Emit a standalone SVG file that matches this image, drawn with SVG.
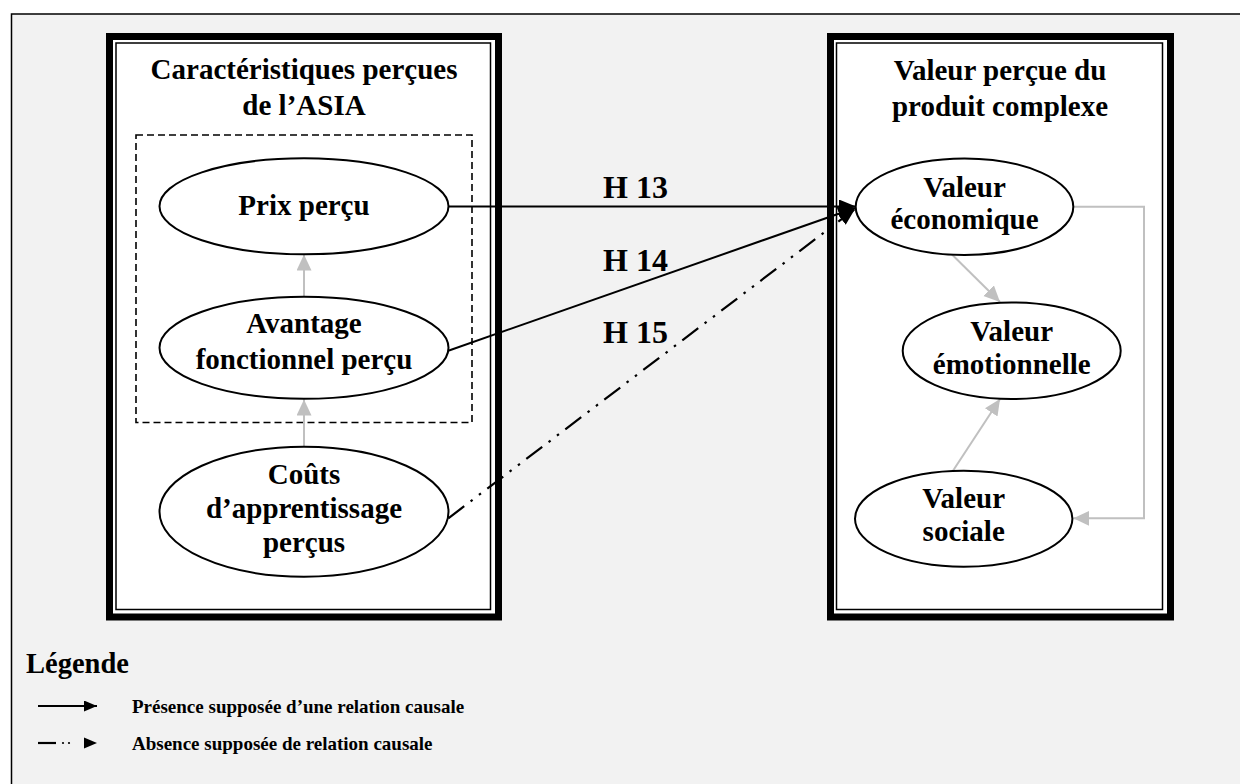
<svg xmlns="http://www.w3.org/2000/svg" width="1240" height="784" viewBox="0 0 1240 784">
<defs>
<style>
text{font-family:"Liberation Serif","Times New Roman",serif;font-weight:bold;fill:#000}
.t{font-size:29px;text-anchor:middle}
.h{font-size:32px}
.lg{font-size:19px}
.node{fill:#fff;stroke:#000;stroke-width:2}
.thick{fill:#fff;stroke:#000;stroke-width:7}
.thin{fill:none;stroke:#000;stroke-width:1.5}
.gray{fill:none;stroke:#c0c0c0;stroke-width:2}
.blk{fill:none;stroke:#000;stroke-width:2}
.dd{fill:none;stroke:#000;stroke-width:2.2;stroke-dasharray:20 8 2.5 8 2.5 8}
</style>
<marker id="ga" markerUnits="userSpaceOnUse" markerWidth="17" markerHeight="16" refX="16" refY="7.5" orient="auto" viewBox="0 0 17 16">
<path d="M0,0 L16,7.5 L0,15 z" fill="#c0c0c0"/>
</marker>
<marker id="ba" markerUnits="userSpaceOnUse" markerWidth="18" markerHeight="16" refX="17" refY="7" orient="auto" viewBox="0 0 18 16">
<path d="M0,0 L17,7 L0,14 z" fill="#000"/>
</marker>
<marker id="la" markerUnits="userSpaceOnUse" markerWidth="14" markerHeight="12" refX="13" refY="5.5" orient="auto" viewBox="0 0 14 12">
<path d="M0,0 L13,5.5 L0,11 z" fill="#000"/>
</marker>
</defs>
<rect x="0" y="0" width="1240" height="784" fill="#fff"/>
<rect x="11.5" y="14" width="1240" height="780" fill="#f2f2f2" stroke="#000" stroke-width="1.5"/>

<g id="box-left">
<rect class="thick" x="109.5" y="36.5" width="389" height="580.5"/>
<rect class="thin" x="116" y="43" width="374.5" height="566.5"/>
<text class="t" x="304" y="79">Caractéristiques perçues</text>
<text class="t" x="304" y="115">de l’ASIA</text>
</g>
<g id="box-right">
<rect class="thick" x="830.5" y="36.5" width="340" height="580.5"/>
<rect class="thin" x="836.5" y="43" width="326" height="566.5"/>
<text class="t" x="1000" y="80">Valeur perçue du</text>
<text class="t" x="1000" y="115.5">produit complexe</text>
</g>

<rect id="group-dashed" x="136" y="135" width="336" height="287.5" fill="none" stroke="#000" stroke-width="1.6" stroke-dasharray="7 4"/>

<g id="connectors">
<line class="gray" x1="304" y1="297" x2="304" y2="254.5" marker-end="url(#ga)"/>
<line class="gray" x1="304" y1="447" x2="304" y2="399.5" marker-end="url(#ga)"/>
<line class="gray" x1="952" y1="254.5" x2="1000" y2="302" marker-end="url(#ga)"/>
<line class="gray" x1="952.5" y1="471.5" x2="1000" y2="399" marker-end="url(#ga)"/>
<polyline class="gray" points="1073.3,206.7 1144,206.7 1144,518.3 1073.3,518.3" marker-end="url(#ga)"/>
<line class="blk" x1="448.3" y1="206.5" x2="856" y2="206.5" marker-end="url(#ba)"/>
<line class="blk" x1="448.3" y1="350.7" x2="855" y2="208" marker-end="url(#ba)"/>
<line class="dd" x1="448.3" y1="518.3" x2="855" y2="209" marker-end="url(#ba)"/>
</g>

<g id="n-prix">
<ellipse class="node" cx="304" cy="206.3" rx="144.5" ry="48"/>
<text class="t" x="304" y="215">Prix perçu</text>
</g>
<g id="n-avantage">
<ellipse class="node" cx="304" cy="347.8" rx="144.5" ry="51"/>
<text class="t" x="304" y="333.3">Avantage</text>
<text class="t" x="304" y="369.3">fonctionnel perçu</text>
</g>
<g id="n-couts">
<ellipse class="node" cx="304" cy="511.7" rx="144.5" ry="65"/>
<text class="t" x="304" y="484.3">Coûts</text>
<text class="t" x="304" y="518.3">d’apprentissage</text>
<text class="t" x="304" y="552">perçus</text>
</g>
<g id="n-economique">
<ellipse class="node" cx="964.5" cy="206.7" rx="108.8" ry="48.3"/>
<text class="t" x="964.5" y="196.7">Valeur</text>
<text class="t" x="964.5" y="229">économique</text>
</g>
<g id="n-emotionnelle">
<ellipse class="node" cx="1011.7" cy="350.7" rx="109" ry="48.3"/>
<text class="t" x="1011.7" y="340.7">Valeur</text>
<text class="t" x="1011.7" y="374">émotionnelle</text>
</g>
<g id="n-sociale">
<ellipse class="node" cx="963.7" cy="518.7" rx="108.7" ry="48"/>
<text class="t" x="963.7" y="508.3">Valeur</text>
<text class="t" x="963.7" y="541">sociale</text>
</g>

<g id="labels">
<text class="h" x="603" y="198.3">H 13</text>
<text class="h" x="603" y="270.7">H 14</text>
<text class="h" x="603" y="342.7">H 15</text>
</g>

<g id="legend">
<text x="26" y="673" style="font-size:28.5px">Légende</text>
<line class="blk" x1="38" y1="706" x2="97" y2="706" marker-end="url(#la)"/>
<text class="lg" x="132" y="712.5">Présence supposée d’une relation causale</text>
<line x1="38" y1="743" x2="56" y2="743" stroke="#000" stroke-width="2.2"/>
<circle cx="63" cy="743" r="1.1" fill="#000"/>
<circle cx="69" cy="743" r="1.1" fill="#000"/>
<path d="M84,737.5 L97,743 L84,748.5 z" fill="#000"/>
<text class="lg" x="132" y="749.5">Absence supposée de relation causale</text>
</g>
</svg>
